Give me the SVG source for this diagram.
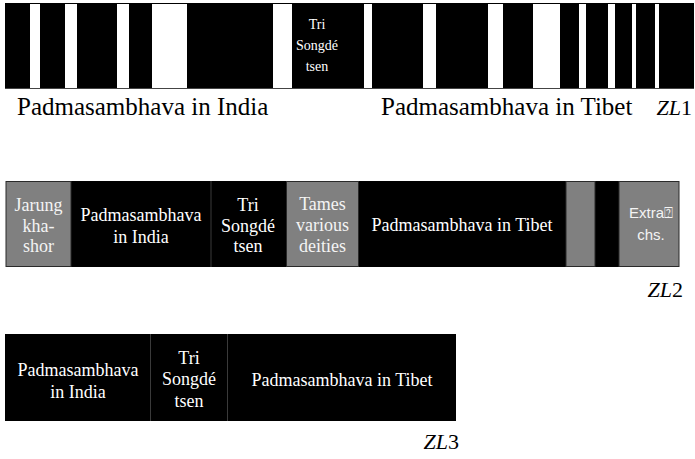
<svg xmlns="http://www.w3.org/2000/svg" width="695" height="459" viewBox="0 0 695 459">
  <style>
    text { font-family: 'Liberation Serif', 'Tinos', 'Times New Roman', 'DejaVu Serif', serif; }
    .lbl { font-size: 25px; fill: #000; }
    .zl { font-size: 22px; fill: #000; text-anchor: end; }
    .seg { font-size: 18px; fill: #fff; text-anchor: middle; }
    .seg-sm { font-size: 14px; fill: #fff; text-anchor: middle; }
    .gtxt { fill: #f4f4f4; }
    .sans { font-family: 'Liberation Sans', 'DejaVu Sans', sans-serif; font-size: 15px; fill: #f4f4f4; text-anchor: middle; }
    .blk { fill: #000; }
    .gry { fill: #808080; stroke: #2a2a2a; stroke-width: 1; }
    .wht { fill: #fff; }
    .div { stroke: #3a3a3a; stroke-width: 1; }
  </style>

  <!-- ZL1: barcode-style strip -->
  <g id="zl1">
    <rect class="blk" x="5" y="3" width="689" height="86"/>
    <g id="zl1-stripes">
      <rect class="wht" x="30" y="4" width="10" height="84"/>
      <rect class="wht" x="65" y="4" width="12" height="84"/>
      <rect class="wht" x="117" y="4" width="12" height="84"/>
      <rect class="wht" x="152" y="4" width="35" height="84"/>
      <rect class="wht" x="273" y="4" width="19" height="84"/>
      <rect class="wht" x="364" y="4" width="8" height="84"/>
      <rect class="wht" x="423" y="4" width="13" height="84"/>
      <rect class="wht" x="488" y="4" width="15" height="84"/>
      <rect class="wht" x="533" y="4" width="27" height="84"/>
      <rect class="wht" x="579" y="4" width="7" height="84"/>
      <rect class="wht" x="608" y="4" width="7" height="84"/>
      <rect class="wht" x="632" y="4" width="4" height="84"/>
      <rect class="wht" x="655" y="4" width="4" height="84"/>
    </g>
    <line x1="5" y1="88.5" x2="694" y2="88.5" stroke="#444" stroke-width="1"/>
    <g id="zl1-tri">
      <text class="seg-sm" x="317" y="29">Tri</text>
      <text class="seg-sm" x="317" y="50">Songdé</text>
      <text class="seg-sm" x="317" y="71">tsen</text>
    </g>
    <text class="lbl" x="17" y="115">Padmasambhava in India</text>
    <text class="lbl" x="381" y="115">Padmasambhava in Tibet</text>
    <text class="zl" x="692" y="115"><tspan font-style="italic">ZL</tspan>1</text>
  </g>

  <!-- ZL2: segmented bar -->
  <g id="zl2">
    <rect class="blk" x="6" y="181" width="673" height="86"/>
    <g id="zl2-jarung">
      <rect class="gry" x="6" y="181.5" width="65" height="85"/>
      <text class="seg gtxt" x="38.5" y="211">Jarung</text>
      <text class="seg gtxt" x="38.5" y="231.5">kha-</text>
      <text class="seg gtxt" x="38.5" y="252">shor</text>
    </g>
    <g id="zl2-india">
      <text class="seg" x="141" y="221">Padmasambhava</text>
      <text class="seg" x="141" y="243">in India</text>
    </g>
    <line class="div" x1="211" y1="181" x2="211" y2="267"/>
    <g id="zl2-tri">
      <text class="seg" x="248" y="211">Tri</text>
      <text class="seg" x="248" y="231.5">Songdé</text>
      <text class="seg" x="248" y="252">tsen</text>
    </g>
    <g id="zl2-tames">
      <rect class="gry" x="286.5" y="181.5" width="72" height="85"/>
      <text class="seg gtxt" x="322.5" y="210">Tames</text>
      <text class="seg gtxt" x="322.5" y="231">various</text>
      <text class="seg gtxt" x="322.5" y="252">deities</text>
    </g>
    <g id="zl2-tibet">
      <text class="seg" x="462" y="231">Padmasambhava in Tibet</text>
    </g>
    <g id="zl2-gap">
      <rect class="gry" x="566" y="181.5" width="29" height="85"/>
    </g>
    <g id="zl2-extra">
      <rect class="gry" x="619" y="181.5" width="60" height="85"/>
      <text class="sans" x="651" y="218">Extra⍰</text>
      <text class="sans" x="651" y="240">chs.</text>
    </g>
    <text class="zl" x="683" y="297"><tspan font-style="italic">ZL</tspan>2</text>
  </g>

  <!-- ZL3: three-part bar -->
  <g id="zl3">
    <rect class="blk" x="5" y="334" width="451" height="87"/>
    <g id="zl3-india">
      <text class="seg" x="78" y="376">Padmasambhava</text>
      <text class="seg" x="78" y="398">in India</text>
    </g>
    <line class="div" x1="150.5" y1="334" x2="150.5" y2="421"/>
    <g id="zl3-tri">
      <text class="seg" x="189" y="364">Tri</text>
      <text class="seg" x="189" y="385">Songdé</text>
      <text class="seg" x="189" y="407">tsen</text>
    </g>
    <line class="div" x1="227.5" y1="334" x2="227.5" y2="421"/>
    <g id="zl3-tibet">
      <text class="seg" x="342" y="386">Padmasambhava in Tibet</text>
    </g>
    <text class="zl" x="459" y="449"><tspan font-style="italic">ZL</tspan>3</text>
  </g>
</svg>
